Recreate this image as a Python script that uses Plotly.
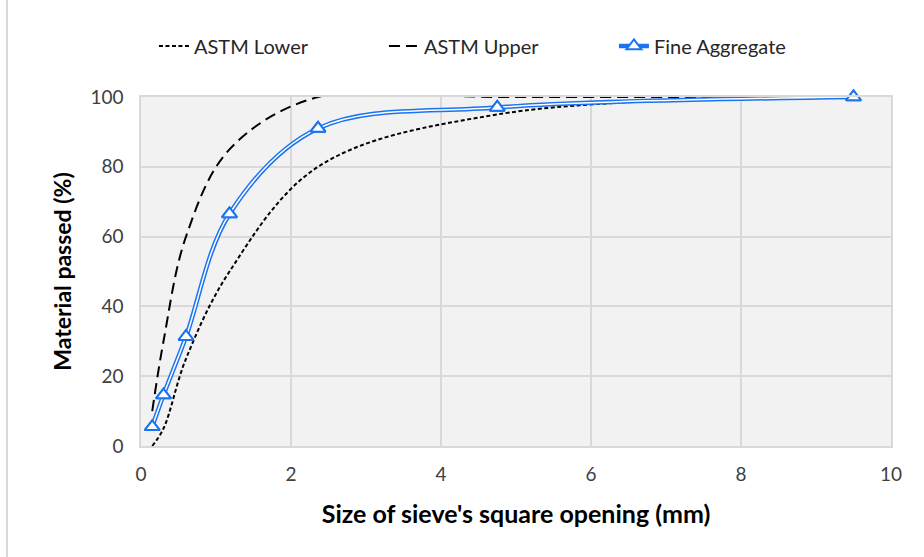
import plotly.graph_objects as go

sieve_mm = [0.15, 0.3, 0.6, 1.18, 2.36, 4.75, 9.5]
astm_lower = [0, 5, 25, 50, 80, 95, 100]
astm_upper = [10, 30, 60, 85, 100, 100, 100]
fine_aggregate = [5.5, 14.6, 31.3, 66.5, 91, 97, 100]

x_ticks = [0, 2, 4, 6, 8, 10]
y_ticks = [0, 20, 40, 60, 80, 100]

BLUE = "#1a73f0"
FONT = "Lato, 'Open Sans', sans-serif"
SPL = dict(shape="spline", smoothing=1)

fig = go.Figure()
fig.add_trace(go.Scatter(
    x=sieve_mm, y=astm_lower, name="ASTM Lower", mode="lines",
    line=dict(color="black", width=2, dash="4px,2.5px", **SPL), legendrank=1,
    cliponaxis=False,
))
fig.add_trace(go.Scatter(
    x=sieve_mm, y=astm_upper, name="ASTM Upper", mode="lines",
    line=dict(color="black", width=2, dash="11px,6px", **SPL), legendrank=2,
    cliponaxis=False,
))
# compound (double) line: blue outer with white core
fig.add_trace(go.Scatter(
    x=sieve_mm, y=fine_aggregate, name="Fine Aggregate", mode="lines+markers",
    line=dict(color=BLUE, width=4.5, **SPL),
    marker=dict(symbol="triangle-up", size=13, color="white", line=dict(color=BLUE, width=2)),
    legendgroup="fa", showlegend=True, legendrank=3, cliponaxis=False,
))
fig.add_trace(go.Scatter(
    x=sieve_mm, y=fine_aggregate, mode="lines",
    line=dict(color="white", width=1.5, **SPL),
    legendgroup="fa", showlegend=False, hoverinfo="skip", cliponaxis=False,
))
fig.add_trace(go.Scatter(
    x=sieve_mm, y=fine_aggregate, mode="markers",
    marker=dict(symbol="triangle-up", size=13, color="white", line=dict(color=BLUE, width=2)),
    legendgroup="fa", showlegend=False, cliponaxis=False,
))

fig.update_layout(
    width=924, height=557,
    margin=dict(l=141, r=33, t=97, b=111),
    paper_bgcolor="white",
    plot_bgcolor="#f2f2f2",
    font=dict(family=FONT, size=19, color="#404040"),
    legend=dict(orientation="h", xref="container", yref="container",
                x=0.54, xanchor="center", y=1 - 46 / 557, yanchor="middle",
                font=dict(size=20, color="#262626"), entrywidth=185, entrywidthmode="pixels",
                bgcolor="rgba(0,0,0,0)"),
    xaxis=dict(
        range=[0, 10], tickvals=x_ticks, showgrid=True, gridcolor="#d9d9d9", gridwidth=1.5,
        zeroline=False, showline=True, linecolor="#d9d9d9", linewidth=1.5, mirror=True,
        ticks="outside", ticklen=10, tickcolor="rgba(0,0,0,0)",
        title=dict(text="<b>Size of sieve's square opening (mm)</b>", font=dict(size=25, color="black"), standoff=22),
    ),
    yaxis=dict(
        range=[0, 100], tickvals=y_ticks, showgrid=True, gridcolor="#d9d9d9", gridwidth=1.5,
        zeroline=False, showline=True, linecolor="#d9d9d9", linewidth=1.5, mirror=True,
        ticks="outside", ticklen=12, tickcolor="rgba(0,0,0,0)",
        title=dict(text="<b>Material passed (%)</b>", font=dict(size=23, color="black"), standoff=12),
    ),
    shapes=[dict(type="line", xref="paper", yref="paper",
                 x0=(7 - 141) / 750, x1=(7 - 141) / 750, y0=-0.35, y1=1.3,
                 line=dict(color="#d9d9d9", width=2))],
)

fig.write_html("out.html")
